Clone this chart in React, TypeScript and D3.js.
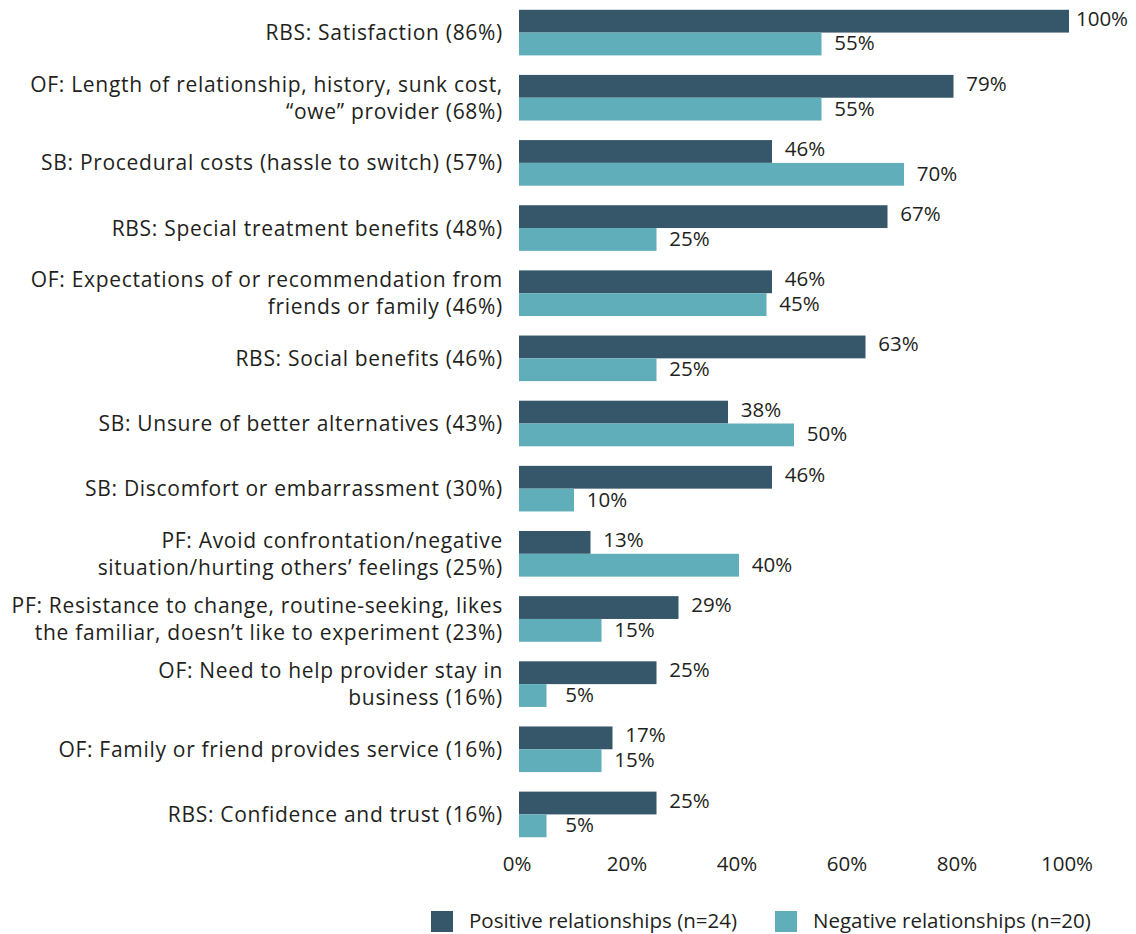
import React from "react";
import * as d3 from "d3";

const categories: string[][] = [
  ["RBS: Satisfaction (86%)"],
  ["OF: Length of relationship, history, sunk cost,", "\u201cowe\u201d provider (68%)"],
  ["SB: Procedural costs (hassle to switch) (57%)"],
  ["RBS: Special treatment benefits (48%)"],
  ["OF: Expectations of or recommendation from", "friends or family (46%)"],
  ["RBS: Social benefits (46%)"],
  ["SB: Unsure of better alternatives (43%)"],
  ["SB: Discomfort or embarrassment (30%)"],
  ["PF: Avoid confrontation/negative", "situation/hurting others\u2019 feelings (25%)"],
  ["PF: Resistance to change, routine-seeking, likes", "the familiar, doesn\u2019t like to experiment (23%)"],
  ["OF: Need to help provider stay in", "business (16%)"],
  ["OF: Family or friend provides service (16%)"],
  ["RBS: Confidence and trust (16%)"],
];
const positive: number[] = [100, 79, 46, 67, 46, 63, 38, 46, 13, 29, 25, 17, 25];
const negative: number[] = [55, 55, 70, 25, 45, 25, 50, 10, 40, 15, 5, 15, 5];
const ticks: number[] = [0, 20, 40, 60, 80, 100];
const seriesNames: string[] = ["Positive relationships (n=24)", "Negative relationships (n=20)"];
const colors: string[] = ["#36576A", "#5FAEB9"];

const W = 1136;
const H = 934;
const FONT = "'Open Sans', 'Noto Sans', sans-serif";
const TEXT = "#231F20";

export default function App() {
  const x = d3.scaleLinear().domain([0, 100]).range([519, 1069]);
  const idx = categories.map((_, i) => String(i));
  const y = d3.scaleBand().domain(idx).range([0, 847]).paddingInner(0.3).paddingOuter(0.15);
  const bh = y.bandwidth() / 2;
  const fs = 20.5;
  const cfs = 21;
  return (
    <svg width={W} height={H} style={{ position: "absolute", left: 0, top: 0 }} fontFamily={FONT}>
      {categories.map((lines, i) => {
        const y0 = y(String(i))!;
        const cy = y0 + bh;
        const lh = 27;
        const startY = cy - ((lines.length - 1) * lh) / 2 + 7.5;
        return (
          <g key={i}>
            <rect x={x(0)} y={y0} width={x(positive[i]) - x(0)} height={bh} fill={colors[0]} />
            <rect x={x(0)} y={y0 + bh} width={x(negative[i]) - x(0)} height={bh} fill={colors[1]} />
            <text x={x(positive[i]) + 33} y={y0 + bh / 2 + 4.5} textAnchor="middle" fontSize={fs} fill={TEXT}>
              {positive[i]}%
            </text>
            <text x={x(negative[i]) + 33} y={y0 + bh * 1.5 + 6.5} textAnchor="middle" fontSize={fs} fill={TEXT}>
              {negative[i]}%
            </text>
            {lines.map((l, j) => (
              <text
                key={j}
                x={503}
                y={startY + j * lh}
                textAnchor="end"
                fontSize={cfs}
                letterSpacing={0.7}
                fill={TEXT}
              >
                {l}
              </text>
            ))}
          </g>
        );
      })}
      {ticks.map((t) => (
        <text key={t} x={x(t) - 2} y={871} textAnchor="middle" fontSize={fs} fill={TEXT}>
          {t}%
        </text>
      ))}
      {seriesNames.map((s, i) => {
        const lx = [431, 775][i];
        return (
          <g key={s}>
            <rect x={lx} y={911} width={22} height={21} fill={colors[i]} />
            <text x={lx + 38} y={928} fontSize={fs} fill={TEXT}>
              {s}
            </text>
          </g>
        );
      })}
    </svg>
  );
}
